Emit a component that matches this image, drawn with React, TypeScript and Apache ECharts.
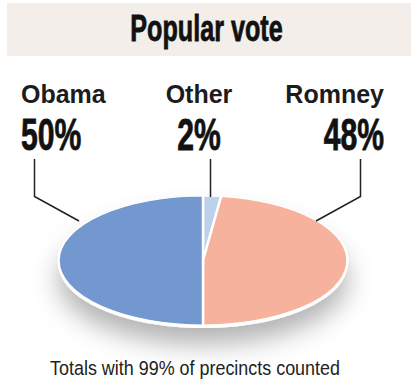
import React, { useEffect, useRef } from "react";
import * as echarts from "echarts";

const titleText = "Popular vote";
const footnote = "Totals with 99% of precincts counted";
const categories = ["Obama", "Other", "Romney"];
const values = [50, 2, 48];
// clockwise from 12 o'clock
const pieNames = ["Other", "Romney", "Obama"];
const pieValues = [2, 48, 50];
const pieColors = ["#BED1EA", "#F7B29E", "#7398D0"];

const CX = 203;
const CY = 260.5;
const RX = 144.5;
const RY = 64.5;

export default function App() {
  const ref = useRef<HTMLDivElement>(null);
  useEffect(() => {
    if (!ref.current) return;
    const chart = echarts.init(ref.current, null, { renderer: "svg" });
    const total = pieValues.reduce((a, b) => a + b, 0);
    const cum: number[] = [];
    let acc = 0;
    pieValues.forEach((v) => {
      cum.push(acc);
      acc += v;
    });

    const labelAnchors = [
      { x: 21, align: "left" },
      { x: 199, align: "center" },
      { x: 384, align: "right" },
    ];

    const labelTexts: any[] = [];
    categories.forEach((c, i) => {
      const a = labelAnchors[i];
      labelTexts.push({
        type: "text",
        x: a.x,
        y: 94,
        z: 100,
        style: {
          text: c,
          fontFamily: "Liberation Sans",
          fontWeight: "bold",
          fontSize: 25,
          fill: "#1c1c1c",
          align: a.align,
          verticalAlign: "middle",
        },
      });
      labelTexts.push({
        type: "text",
        x: a.x,
        y: 134,
        z: 100,
        scaleX: 0.67,
        style: {
          text: `${values[i]}%`,
          fontFamily: "Liberation Sans",
          fontWeight: "bold",
          fontSize: 45,
          fill: "#111",
          stroke: "#111",
          lineWidth: 0.8,
          align: a.align,
          verticalAlign: "middle",
        },
      });
    });

    const lineStyle = { stroke: "#222", lineWidth: 1.5, fill: "none" };

    chart.setOption({
      animation: false,
      backgroundColor: "#ffffff",
      graphic: [
        {
          type: "rect",
          z: 1,
          shape: { x: 7, y: 3, width: 404, height: 53 },
          style: { fill: "#F3EEE9" },
        },
        {
          type: "text",
          x: 206.5,
          y: 28.5,
          z: 5,
          scaleX: 0.68,
          style: {
            text: titleText,
            fontFamily: "Liberation Sans",
            fontWeight: "bold",
            fontSize: 37,
            fill: "#111",
            stroke: "#111",
            lineWidth: 0.8,
            align: "center",
            verticalAlign: "middle",
          },
        },
        ...labelTexts,
        {
          type: "ellipse",
          z: 0,
          shape: { cx: CX, cy: CY + 3, rx: RX, ry: RY },
          style: {
            fill: "#ffffff",
            shadowBlur: 26,
            shadowOffsetY: 16,
            shadowColor: "rgba(0,0,0,0.3)",
          },
        },
        {
          type: "polyline",
          z: 100,
          shape: { points: [[34.5, 159], [34.5, 196.5], [79, 221]] },
          style: lineStyle,
        },
        {
          type: "polyline",
          z: 100,
          shape: { points: [[210.5, 159], [210.5, 197]] },
          style: lineStyle,
        },
        {
          type: "polyline",
          z: 100,
          shape: { points: [[360.5, 159], [360.5, 196.5], [316, 221]] },
          style: lineStyle,
        },
        {
          type: "text",
          x: 195,
          y: 368,
          z: 5,
          scaleX: 0.92,
          style: {
            text: footnote,
            fontFamily: "Liberation Sans",
            fontSize: 19.5,
            fill: "#222",
            align: "center",
            verticalAlign: "middle",
          },
        },
      ],
      series: [
        {
          type: "custom",
          coordinateSystem: "none",
          z: 10,
          data: pieValues.map((v, i) => ({ name: pieNames[i], value: v })),
          renderItem: (params: any) => {
            const i = params.dataIndex;
            const start = -Math.PI / 2 + (cum[i] / total) * Math.PI * 2;
            const end = start + (pieValues[i] / total) * Math.PI * 2;
            return {
              type: "sector",
              x: CX,
              y: CY,
              scaleY: RY / RX,
              shape: { cx: 0, cy: 0, r: RX, r0: 0, startAngle: start, endAngle: end, clockwise: true },
              style: {
                fill: pieColors[i],
                stroke: "#ffffff",
                lineWidth: 2.5,
                strokeNoScale: true,
              },
            };
          },
        },
      ],
    });
    return () => chart.dispose();
  }, []);
  return (
    <div
      ref={ref}
      style={{ position: "fixed", left: 0, top: 0, width: 411, height: 386 }}
    />
  );
}
